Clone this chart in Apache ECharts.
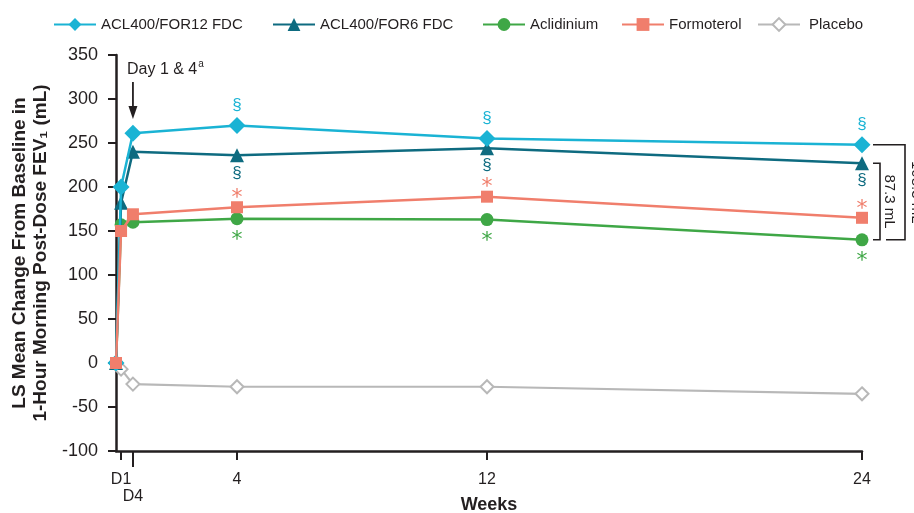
<!DOCTYPE html>
<html>
<head>
<meta charset="utf-8">
<script src="https://cdn.jsdelivr.net/npm/echarts@6/dist/echarts.min.js"></script>
<style>
html,body{margin:0;padding:0;background:#fff;}
#chart{width:914px;height:513px;}
</style>
</head>
<body>
<div id="chart"></div>
<script>
// ---- Data ----
const seriesNames = ['ACL400/FOR12 FDC', 'ACL400/FOR6 FDC', 'Aclidinium', 'Formoterol', 'Placebo'];
// time positions in weeks: baseline, Day 1, Day 4, Week 4, Week 12, Week 24
const timePoints = [0.128, 0.29, 0.67, 4, 12, 24];
const fdc12 = [0, 200, 261, 270, 255, 248];
const fdc6 = [0, 182, 240, 236, 244, 227];
const aclidinium = [0, 157, 160, 164, 163, 140];
const formoterol = [0, 150, 169, 177, 189, 165];
const placebo = [0, -7, -24, -27, -27, -35];
// significance markers per time point
const fdc12Marks = ['', '', '', '§', '§', '§'];
const fdc6Marks = ['', '', '', '§', '§', '§'];
const aclidiniumMarks = ['', '', '', '*', '*', '*'];
const formoterolMarks = ['', '', '', '*', '*', '*'];
// axis ticks
const xTickValues = [0.29, 0.67, 4, 12, 24];
const xTickLabels = ['D1', 'D4', '4', '12', '24'];
const yTicks = [-100, -50, 0, 50, 100, 150, 200, 250, 300, 350];
// bracket differences at week 24
const diffLabels = ['108.3 mL', '87.3 mL'];

const FONT = '"Liberation Sans", Arial, Helvetica, sans-serif';
const INK = '#231f20';
const colors = {
  fdc12: '#1ab3d4',
  fdc6: '#0e6b80',
  acl: '#3fa746',
  form: '#f07e6c',
  plac: '#b8b8b8'
};

function build(values, marks, pos, color, dist, fs, ff, offset) {
  return timePoints.map((t, i) => {
    const d = { value: [t, values[i]] };
    if (marks && marks[i]) {
      d.label = {
        show: true, formatter: marks[i], position: pos, distance: dist,
        color: color, fontSize: fs, fontFamily: ff, offset: offset || [0, 0]
      };
    }
    return d;
  });
}

const chart = echarts.init(document.getElementById('chart'), null, { renderer: 'canvas' });

function lineSeries(name, values, color, symbol, size, marks, pos, dist, fs, ff, offset, z, extra) {
  return Object.assign({
    name: name,
    type: 'line',
    data: build(values, marks, pos, color, dist, fs, ff, offset),
    symbol: symbol,
    symbolSize: size,
    z: z,
    lineStyle: { color: color, width: 2.5 },
    itemStyle: { color: color },
    emphasis: { disabled: true },
    animation: false
  }, extra || {});
}

const series = [
  lineSeries(seriesNames[4], placebo, colors.plac, 'diamond', 13, null, null, 0, 0, FONT, null, 2,
    { itemStyle: { color: '#ffffff', borderColor: colors.plac, borderWidth: 2 }, lineStyle: { color: colors.plac, width: 2.2 } }),
  lineSeries(seriesNames[2], aclidinium, colors.acl, 'circle', 13, aclidiniumMarks, 'bottom', 0, 22, '"DejaVu Sans", sans-serif', [0, 4], 3),
  lineSeries(seriesNames[1], fdc6, colors.fdc6, 'triangle', 14, fdc6Marks, 'bottom', 2, 17, FONT, [0, 0], 4),
  lineSeries(seriesNames[0], fdc12, colors.fdc12, 'diamond', 17, fdc12Marks, 'top', 3, 17, FONT, [0, 0], 5),
  lineSeries(seriesNames[3], formoterol, colors.form, 'rect', 12, formoterolMarks, 'top', 0, 22, '"DejaVu Sans", sans-serif', [0, 8], 6)
];

const legendPos = [53, 272, 482, 621, 757];
const legends = seriesNames.map((n, i) => ({
  data: [n],
  left: legendPos[i],
  top: 17,
  padding: 0,
  itemWidth: 42,
  itemHeight: 16,
  itemGap: 0,
  selectedMode: false,
  textStyle: { fontSize: 15, color: INK, fontFamily: FONT, padding: [0, 0, 0, i === 4 ? 4 : 0] }
}));

chart.setOption({
  animation: false,
  backgroundColor: '#ffffff',
  legend: legends,
  grid: { left: 116, right: 52, top: 55, bottom: 62, containLabel: false, outerBoundsMode: 'none' },
  xAxis: [{
    type: 'value',
    min: timePoints[0],
    max: 24,
    name: 'Weeks',
    nameLocation: 'middle',
    nameGap: 45,
    nameTextStyle: { fontSize: 18, fontWeight: 'bold', color: INK, fontFamily: FONT },
    splitLine: { show: false },
    axisLine: { show: true, onZero: false, lineStyle: { color: INK, width: 2.5 } },
    axisTick: { show: true, length: 9, lineStyle: { color: INK, width: 2 },
      customValues: [xTickValues[0], xTickValues[2], xTickValues[3], xTickValues[4]] },
    axisLabel: { show: true, fontSize: 16, color: INK, fontFamily: FONT, margin: 21,
      customValues: [xTickValues[0], xTickValues[2], xTickValues[3], xTickValues[4]],
      formatter: v => xTickLabels[xTickValues.indexOf(v)] }
  }, {
    type: 'value',
    min: timePoints[0],
    max: 24,
    position: 'bottom',
    splitLine: { show: false },
    axisLine: { show: false, onZero: false },
    axisTick: { show: true, length: 16, lineStyle: { color: INK, width: 2 }, customValues: [xTickValues[1]] },
    axisLabel: { show: true, fontSize: 16, color: INK, fontFamily: FONT, margin: 38,
      customValues: [xTickValues[1]], formatter: v => xTickLabels[xTickValues.indexOf(v)] }
  }],
  yAxis: {
    type: 'value',
    min: yTicks[0],
    max: yTicks[yTicks.length - 1],
    interval: 50,
    name: 'LS Mean Change From Baseline in\n1-Hour Morning Post-Dose FEV\u2081 (mL)',
    nameLocation: 'middle',
    nameGap: 61,
    nameTextStyle: { fontSize: 19, fontWeight: 'bold', color: INK, fontFamily: FONT, lineHeight: 21 },
    splitLine: { show: false },
    axisLine: { show: true, lineStyle: { color: INK, width: 2.5 } },
    axisTick: { show: true, length: 8, lineStyle: { color: INK, width: 2 } },
    axisLabel: { fontSize: 18, color: INK, fontFamily: FONT, margin: 18 }
  },
  series: series
});

// ---- annotations positioned through the chart's own scales ----
function px(x, y) { return chart.convertToPixel({ xAxisIndex: 0, yAxisIndex: 0 }, [x, y]); }
const last = timePoints.length - 1;
const pTop = px(timePoints[last], fdc12[last]);
const pMid = px(timePoints[last], fdc6[last]);
const pBot = px(timePoints[last], aclidinium[last]);
const bx = pTop[0];
const d4 = px(timePoints[2], 0);
const lineStyle = { stroke: INK, lineWidth: 1.6, fill: null };

const graphics = [
  // bracket 1 (FDC12 vs aclidinium)
  { type: 'polyline', shape: { points: [[bx + 11, pTop[1]], [bx + 43, pTop[1]], [bx + 43, pBot[1]], [bx + 24, pBot[1]]] }, style: lineStyle, silent: true },
  // bracket 2 (FDC6 vs aclidinium)
  { type: 'polyline', shape: { points: [[bx + 11, pMid[1]], [bx + 18, pMid[1]], [bx + 18, pBot[1]], [bx + 11, pBot[1]]] }, style: lineStyle, silent: true },
  { type: 'text', x: bx + 27, y: (pMid[1] + pBot[1]) / 2, rotation: -Math.PI / 2,
    style: { text: diffLabels[1], fontSize: 15, fill: INK, fontFamily: FONT, align: 'center', verticalAlign: 'middle' }, silent: true },
  { type: 'text', x: bx + 54, y: (pTop[1] + pBot[1]) / 2, rotation: -Math.PI / 2,
    style: { text: diffLabels[0], fontSize: 15, fill: INK, fontFamily: FONT, align: 'center', verticalAlign: 'middle' }, silent: true },
  // Day 1 & 4 arrow
  { type: 'line', shape: { x1: d4[0], y1: 82, x2: d4[0], y2: 110 }, style: { stroke: INK, lineWidth: 1.8 }, silent: true },
  { type: 'polygon', shape: { points: [[d4[0] - 4.5, 106], [d4[0] + 4.5, 106], [d4[0], 119]] }, style: { fill: INK }, silent: true },
  { type: 'text', x: 127, y: 70,
    style: { text: '{m|Day 1 & 4}{s|a}', verticalAlign: 'middle', align: 'left',
      rich: { m: { fontSize: 16, fill: INK, fontFamily: FONT },
              s: { fontSize: 10, fill: INK, fontFamily: FONT, padding: [0, 0, 11, 1] } } }, silent: true }
];
chart.setOption({ graphic: graphics });
</script>
</body>
</html>
